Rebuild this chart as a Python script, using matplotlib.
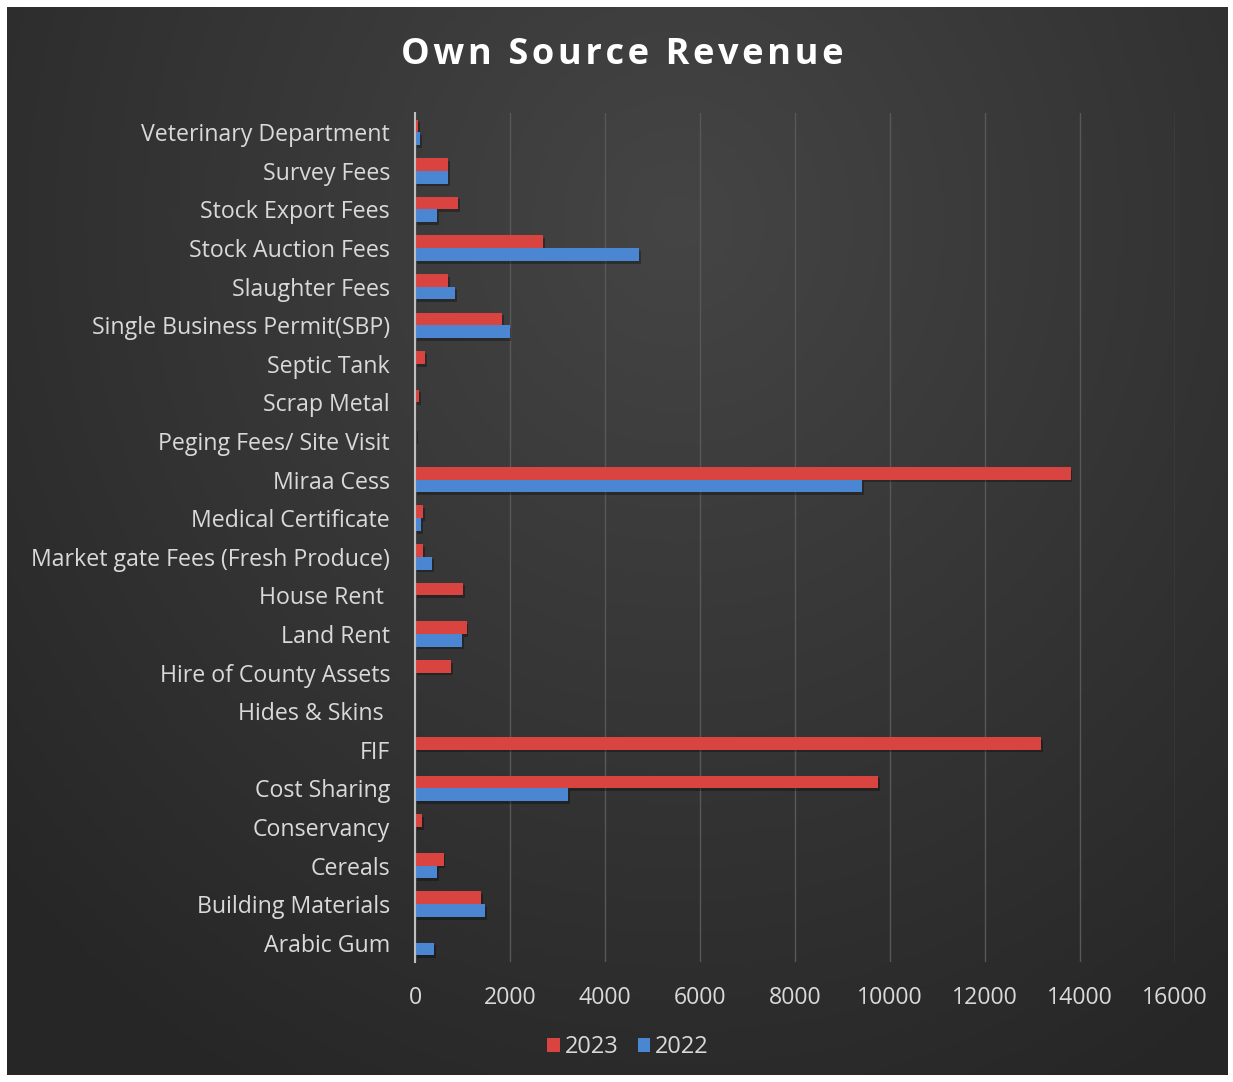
import numpy as np
import matplotlib.pyplot as plt

categories = [
    "Veterinary Department", "Survey Fees", "Stock Export Fees", "Stock Auction Fees",
    "Slaughter Fees", "Single Business Permit(SBP)", "Septic Tank", "Scrap Metal",
    "Peging Fees/ Site Visit", "Miraa Cess", "Medical Certificate",
    "Market gate Fees (Fresh Produce)", "House Rent ", "Land Rent",
    "Hire of County Assets", "Hides & Skins ", "FIF", "Cost Sharing",
    "Conservancy", "Cereals", "Building Materials", "Arabic Gum",
]
rev_2023 = [60, 700, 910, 2700, 700, 1840, 220, 80, 20, 13800, 160, 160, 1020, 1085,
            760, 10, 13180, 9750, 155, 600, 1390, 5]
rev_2022 = [100, 700, 460, 4710, 850, 1990, 0, 0, 0, 9420, 120, 365, 0, 995,
            0, 0, 0, 3220, 0, 460, 1470, 395]
xticks = list(range(0, 16001, 2000))

RED = "#d94441"
BLUE = "#4a86d2"
TXT = "#d9d9d9"

fig = plt.figure(figsize=(12.33, 10.82), dpi=100)
fig.patch.set_facecolor("white")

# dark radial gradient background (lighter near the top centre)
bg = fig.add_axes([7 / 1233, 7 / 1082, 1221 / 1233, 1068 / 1082])
yy, xx = np.mgrid[0:1:300j, 0:1:300j]
r = np.clip(np.sqrt((xx - 0.55) ** 2 + ((yy - 0.2) * 0.8) ** 2) / 0.75, 0, 1)
shade = 0.27 - 0.12 * r
img = np.dstack([shade, shade, shade])
bg.imshow(img, extent=[0, 1, 0, 1], aspect="auto", origin="upper")
bg.set_axis_off()

ax = fig.add_axes([415 / 1233, 1 - 962 / 1082, (1175 - 415) / 1233, (962 - 113) / 1082])
ax.patch.set_alpha(0)

n = len(categories)
y = np.arange(n)[::-1]
h = 0.33
# soft shadows
ax.barh(y + h / 2 - 0.07, rev_2023, height=h, left=40, color="black", alpha=0.3, zorder=2)
ax.barh(y - h / 2 - 0.07, rev_2022, height=h, left=40, color="black", alpha=0.3, zorder=2)
ax.barh(y + h / 2, rev_2023, height=h, color=RED, label="2023", zorder=3)
ax.barh(y - h / 2, rev_2022, height=h, color=BLUE, label="2022", zorder=3)

ax.set_xlim(0, 16000)
ax.set_ylim(-0.5, n - 0.5)
ax.set_xticks(xticks)
ax.set_yticks(y)
ax.set_yticklabels(categories)
ax.tick_params(axis="both", length=0, colors=TXT, labelsize=16.7)
ax.tick_params(axis="y", pad=18)
ax.tick_params(axis="x", pad=17)
for lab in ax.get_xticklabels() + ax.get_yticklabels():
    lab.set_family("Open Sans")
ax.grid(axis="x", color="#585858", linewidth=1, zorder=0)
for s in ["top", "right", "bottom"]:
    ax.spines[s].set_visible(False)
ax.spines["left"].set_color("#bfbfbf")
ax.spines["left"].set_linewidth(1.5)
ax.spines["left"].set_zorder(4)

title = "\u200a".join("Own Source Revenue")
fig.text(0.505, 1 - 55 / 1082, title, color="white",
         fontsize=26, fontweight="bold", family="Open Sans", ha="center", va="center")

leg = ax.legend(loc="center", bbox_to_anchor=(628 / 1233, 1 - 1047 / 1082),
                bbox_transform=fig.transFigure, ncol=2, frameon=False,
                handlelength=0.55, handleheight=0.55, handletextpad=0.2, columnspacing=0.8,
                prop={"family": "Open Sans", "size": 17})
for t in leg.get_texts():
    t.set_color(TXT)

fig.savefig("out.png", dpi=100, facecolor=fig.get_facecolor())
